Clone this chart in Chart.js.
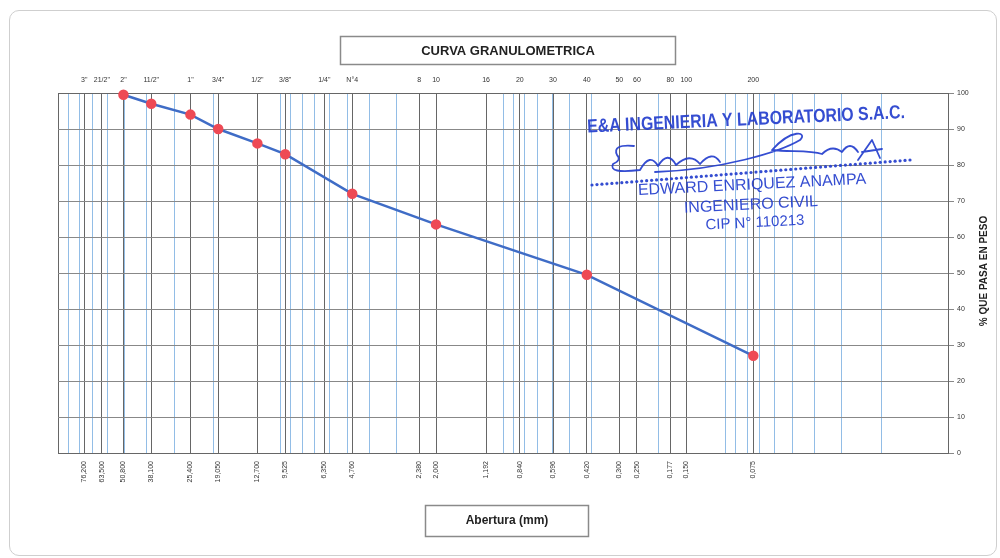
<!DOCTYPE html>
<html>
<head>
<meta charset="utf-8">
<script src="https://cdn.jsdelivr.net/npm/chart.js@4.4.1/dist/chart.umd.min.js"></script>
<style>
  html, body { margin: 0; padding: 0; background: #ffffff; }
  #wrap { position: relative; width: 1000px; height: 558px; }
  #frame { position: absolute; left: 9px; top: 10px; width: 986px; height: 544px;
           border: 1px solid #cfcfcf; border-radius: 10px; }
  canvas { position: absolute; left: 0; top: 0; }
</style>
</head>
<body>
<div id="wrap">
  <div id="frame"></div>
  <canvas id="chart" width="1000" height="558"></canvas>
</div>
<script>
// Sieve openings (mm) with their names and printed apertures
const sieveSizes = [76.2, 63.5, 50.8, 38.1, 25.4, 19.05, 12.7, 9.525, 6.35, 4.76, 2.38, 2.0,
                    1.192, 0.84, 0.596, 0.42, 0.30, 0.25, 0.177, 0.15, 0.075];
const sieveNames = ['3"', '21/2"', '2"', '11/2"', '1"', '3/4"', '1/2"', '3/8"', '1/4"', 'N°4',
                    '8', '10', '16', '20', '30', '40', '50', '60', '80', '100', '200'];
const sieveLabels = ['76,200', '63,500', '50,800', '38,100', '25,400', '19,050', '12,700', '9,525',
                     '6,350', '4,760', '2,380', '2,000', '1,192', '0,840', '0,596', '0,420',
                     '0,300', '0,250', '0,177', '0,150', '0,075'];

// Grading test results
const testedSizes    = [50.8, 38.1, 25.4, 19.05, 12.7, 9.525, 4.76, 2.0, 0.42, 0.075];
const percentPassing = [99.5, 97, 94, 90, 86, 83, 72, 63.5, 49.5, 27];

const percentTicks = [0, 10, 20, 30, 40, 50, 60, 70, 80, 90, 100];

// Log-paper minor lines 1..9 x 10^n between 0.01 and 100 mm
const logGrid = [];
[0.01, 0.1, 1, 10].forEach(d => { for (let m = 1; m <= 9; m++) logGrid.push(+(m * d).toPrecision(6)); });
logGrid.push(100);

function sieveIndex(v) {
  return sieveSizes.findIndex(s => Math.abs(v - s) / s < 1e-6);
}
const gridValues = sieveSizes.slice();
logGrid.forEach(v => { if (sieveIndex(v) < 0) gridValues.push(v); });
gridValues.sort((a, b) => b - a);

const SANS = '"Liberation Sans", Arial, sans-serif';

// Framed titles, right-hand axis title and laboratory stamp
const overlay = {
  id: 'overlay',
  afterDraw(chart) {
    const ctx = chart.ctx;
    const ca = chart.chartArea;
    ctx.save();

    // Title box
    ctx.strokeStyle = '#8a8a8a'; ctx.lineWidth = 1.5;
    ctx.strokeRect(340.5, 36.5, 335, 28);
    ctx.fillStyle = '#222'; ctx.font = 'bold 13px ' + SANS;
    ctx.textAlign = 'center'; ctx.textBaseline = 'middle';
    ctx.fillText('CURVA GRANULOMETRICA', 508, 51);

    // X axis title box
    ctx.strokeRect(425.5, 505.5, 163, 31);
    ctx.font = 'bold 12px ' + SANS;
    ctx.fillText('Abertura (mm)', 507, 521);

    // Right axis title
    ctx.save();
    ctx.translate(984, (ca.top + ca.bottom) / 2 - 2);
    ctx.rotate(-Math.PI / 2);
    ctx.font = 'bold 10px ' + SANS;
    ctx.fillText('% QUE PASA EN PESO', 0, 0);
    ctx.restore();

    // Stamp
    const blue = 'rgba(36,62,205,0.92)';
    ctx.fillStyle = blue;
    ctx.strokeStyle = blue;
    function stampLine(text, x, y, ang, font, w) {
      ctx.save();
      ctx.translate(x, y); ctx.rotate(ang);
      ctx.font = font;
      ctx.fillText(text, 0, 0, w);
      ctx.restore();
    }
    stampLine('E&A INGENIERIA Y LABORATORIO S.A.C.', 746, 120, -0.045, 'bold 19px ' + SANS, 318);
    stampLine('EDWARD ENRIQUEZ ANAMPA', 752, 185, -0.05, '16px ' + SANS, 250);
    stampLine('INGENIERO CIVIL', 751, 205, -0.05, '16px ' + SANS, 168);
    stampLine('CIP N° 110213', 755, 223, -0.05, '15px ' + SANS, 130);

    // Dotted rule of the stamp
    const x0 = 592, y0 = 185, x1 = 910, y1 = 160;
    const n = 64;
    for (let i = 0; i <= n; i++) {
      const t = i / n;
      ctx.beginPath();
      ctx.arc(x0 + (x1 - x0) * t, y0 + (y1 - y0) * t, 1.6, 0, Math.PI * 2);
      ctx.fill();
    }

    // Handwritten signature strokes
    ctx.lineWidth = 1.8; ctx.lineCap = 'round'; ctx.lineJoin = 'round';
    ctx.beginPath();
    ctx.moveTo(634, 146);
    ctx.quadraticCurveTo(612, 144, 617, 155);
    ctx.quadraticCurveTo(622, 160, 613, 164);
    ctx.quadraticCurveTo(608, 174, 640, 170);
    ctx.quadraticCurveTo(650, 152, 658, 166);
    ctx.quadraticCurveTo(668, 150, 676, 165);
    ctx.quadraticCurveTo(690, 152, 700, 164);
    ctx.quadraticCurveTo(712, 150, 720, 162);
    ctx.stroke();
    ctx.beginPath();
    ctx.moveTo(655, 172);
    ctx.bezierCurveTo(720, 170, 780, 152, 800, 140);
    ctx.bezierCurveTo(808, 132, 792, 128, 772, 150);
    ctx.bezierCurveTo(790, 152, 810, 150, 822, 154);
    ctx.quadraticCurveTo(832, 144, 842, 152);
    ctx.quadraticCurveTo(850, 140, 858, 152);
    ctx.stroke();
    ctx.beginPath();
    ctx.moveTo(858, 160);
    ctx.lineTo(872, 140);
    ctx.lineTo(880, 158);
    ctx.moveTo(862, 152);
    ctx.lineTo(882, 149);
    ctx.stroke();
    ctx.restore();
  }
};

new Chart(document.getElementById('chart'), {
  type: 'scatter',
  data: {
    datasets: [{
      data: testedSizes.map((x, i) => ({ x: x, y: percentPassing[i] })),
      xAxisID: 'x', yAxisID: 'y',
      showLine: true,
      borderColor: '#3f6cc6',
      borderWidth: 2.5,
      tension: 0,
      pointRadius: 4,
      pointBackgroundColor: '#ee4a55',
      pointBorderColor: '#ee4a55',
      clip: false
    }]
  },
  options: {
    responsive: false,
    animation: false,
    layout: { padding: { left: 58, right: 0, top: 0, bottom: 0 } },
    plugins: { legend: { display: false }, tooltip: { enabled: false } },
    scales: {
      x: {
        type: 'logarithmic', position: 'bottom', reverse: true, min: 0.01, max: 100,
        afterBuildTicks: s => { s.ticks = gridValues.map(v => ({ value: v })); },
        afterFit: s => { s.height = 105; },
        grid: {
          color: c => {
            const v = c.tick ? c.tick.value : 0;
            return (sieveIndex(v) >= 0 || v === 100 || v === 0.01) ? '#666666' : '#92bde6';
          },
          lineWidth: 1,
          drawTicks: false
        },
        border: { display: true, color: '#666666' },
        ticks: {
          autoSkip: false, minRotation: 90, maxRotation: 90, padding: 8,
          font: { size: 7, family: SANS }, color: '#333',
          callback: (v, i, ticks) => {
            const k = sieveIndex(ticks[i].value);
            return k >= 0 ? sieveLabels[k] : '';
          }
        }
      },
      x2: {
        type: 'logarithmic', position: 'top', reverse: true, min: 0.01, max: 100,
        afterBuildTicks: s => { s.ticks = sieveSizes.map(v => ({ value: v })); },
        afterFit: s => { s.height = 93; },
        grid: { display: false, drawOnChartArea: false, drawTicks: false },
        border: { display: true, color: '#666666' },
        ticks: {
          autoSkip: false, minRotation: 0, maxRotation: 0, padding: 9,
          font: { size: 7, family: SANS }, color: '#333',
          callback: (v, i) => sieveNames[i]
        }
      },
      y: {
        position: 'right', min: 0, max: 100,
        afterBuildTicks: s => { s.ticks = percentTicks.map(v => ({ value: v })); },
        afterFit: s => { s.width = 52; },
        grid: { color: '#888888', lineWidth: 1, tickLength: 6 },
        border: { display: true, color: '#666666' },
        ticks: { padding: 3, font: { size: 7, family: SANS }, color: '#333' }
      }
    }
  },
  plugins: [overlay]
});
</script>
</body>
</html>
